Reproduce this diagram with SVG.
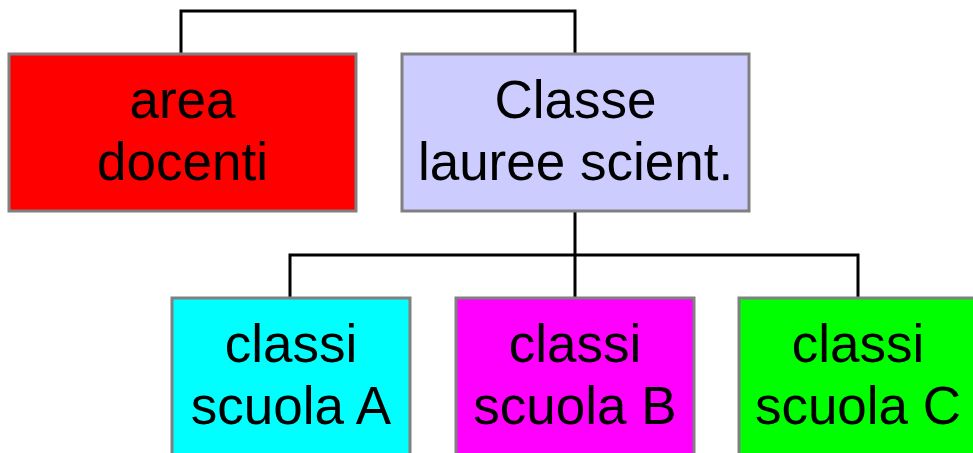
<svg xmlns="http://www.w3.org/2000/svg" width="973" height="453" viewBox="0 0 973 453">
<style>
.box{stroke:#808080;stroke-width:3}
.lbl{font-family:"Liberation Sans",Arial,sans-serif;font-size:53px;fill:#000;text-anchor:middle}
.conn{fill:none;stroke:#000;stroke-width:3}
</style>
<rect width="973" height="453" fill="#fff"/>
<g id="connectors">
<polyline class="conn" points="181,54 181,11 575,11 575,54"/>
<line class="conn" x1="575" y1="211" x2="575" y2="298"/>
<polyline class="conn" points="290,298 290,255 858,255 858,298"/>
</g>
<g id="area-docenti">
<rect class="box" x="9" y="54" width="347" height="157" fill="#ff0000"/>
<text class="lbl" x="182.5" y="118">area</text>
<text class="lbl" x="182.5" y="180">docenti</text>
</g>
<g id="classe-lauree">
<rect class="box" x="402" y="54" width="347" height="157" fill="#ccccff"/>
<text class="lbl" x="575.5" y="118">Classe</text>
<text class="lbl" x="575.5" y="180">lauree scient.</text>
</g>
<g id="scuola-a">
<rect class="box" x="172" y="298" width="238" height="170" fill="#00ffff"/>
<text class="lbl" x="291" y="362">classi</text>
<text class="lbl" x="291" y="424">scuola A</text>
</g>
<g id="scuola-b">
<rect class="box" x="456" y="298" width="238" height="170" fill="#ff00ff"/>
<text class="lbl" x="575" y="362">classi</text>
<text class="lbl" x="575" y="424">scuola B</text>
</g>
<g id="scuola-c">
<rect class="box" x="739" y="298" width="238" height="170" fill="#00ff00"/>
<text class="lbl" x="858" y="362">classi</text>
<text class="lbl" x="858" y="424">scuola C</text>
</g>
</svg>
